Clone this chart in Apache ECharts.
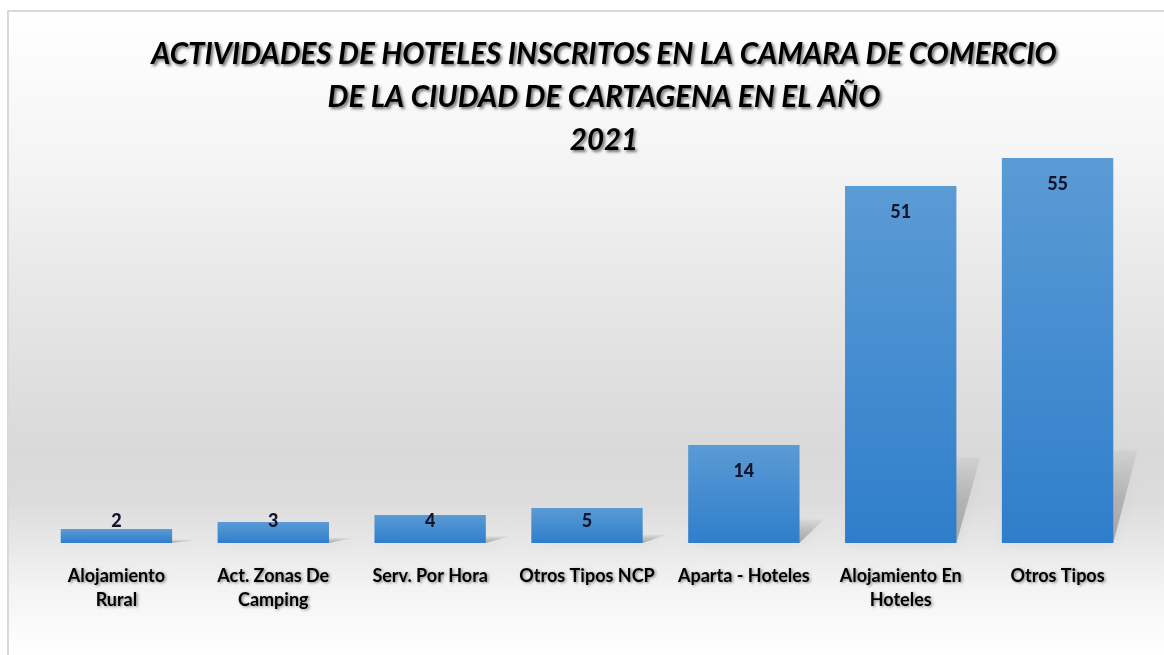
<!DOCTYPE html>
<html>
<head>
<meta charset="utf-8">
<script src="https://cdn.jsdelivr.net/npm/echarts@6/dist/echarts.min.js"></script>
<style>
  html, body { margin: 0; padding: 0; background: #ffffff; }
  #frame {
    position: absolute; left: 7px; top: 10px; width: 1157px; height: 645px;
    border-left: 2px solid #d9d9d9; border-top: 2px solid #d9d9d9;
    box-sizing: border-box;
    background: linear-gradient(to bottom, #ffffff 0%, #f5f5f5 22%, #e6e6e6 45%, #d9d9d9 68%, #dcdcdc 76%, #f4f4f4 90%, #ffffff 100%);
  }
  #chart { position: absolute; left: 0; top: 0; width: 1164px; height: 655px; }
</style>
</head>
<body>
<div id="frame"></div>
<div id="chart"></div>
<script>
const titleLines = [
  "ACTIVIDADES DE HOTELES INSCRITOS EN LA CAMARA DE COMERCIO",
  "DE LA CIUDAD DE CARTAGENA EN EL AÑO",
  "2021"
];
const categories = [
  "Alojamiento\nRural",
  "Act. Zonas De\nCamping",
  "Serv. Por Hora",
  "Otros Tipos NCP",
  "Aparta - Hoteles",
  "Alojamiento En\nHoteles",
  "Otros Tipos"
];
const values = [2, 3, 4, 5, 14, 51, 55];

const chart = echarts.init(document.getElementById('chart'), null, { renderer: 'canvas' });

const GAP = 0.29;

const barColor = new echarts.graphic.LinearGradient(0, 0, 0, 1, [
  { offset: 0, color: '#5b9bd5' },
  { offset: 1, color: '#2f7ecb' }
]);

const seriesData = values.map(v => (
  v < 8
    ? { value: v, label: { position: 'insideBottom', distance: 13 } }
    : { value: v }
));

// perspective-like shadow behind each bar, drawn from the same scales
function renderShadow(params, api) {
  const idx = api.value(0);
  const val = api.value(1);
  const top = api.coord([idx, val]);
  const base = api.coord([idx, 0]);
  const band = api.size([1, 0])[0];
  const w = band * (1 - GAP);
  const x0 = base[0] - w / 2;
  const x1 = base[0] + w / 2;
  const h = base[1] - top[1];
  const sh = h * 0.24;
  const dx = 24;
  return {
    type: 'polygon',
    shape: {
      points: [
        [x0, base[1]],
        [x1, base[1]],
        [x1 + dx, base[1] - sh],
        [x0 + dx, base[1] - sh]
      ]
    },
    style: {
      fill: new echarts.graphic.LinearGradient(0, 0, 0, 1, [
        { offset: 0, color: 'rgba(0,0,0,0.03)' },
        { offset: 0.5, color: 'rgba(0,0,0,0.16)' },
        { offset: 1, color: 'rgba(0,0,0,0.26)' }
      ]),
      shadowBlur: 14,
      shadowColor: 'rgba(0,0,0,0.22)'
    }
  };
}

const option = {
  backgroundColor: 'transparent',
  animation: false,
  graphic: [{
    type: 'text',
    x: 604,
    y: 33,
    style: {
      text: titleLines.join('\n'),
      fontFamily: 'Lato',
      fontStyle: 'italic',
      fontWeight: 'bold',
      fontSize: 29.5,
      lineHeight: 43,
      fill: '#000000',
      textAlign: 'center',
      textVerticalAlign: 'top',
      textShadowColor: 'rgba(0,0,0,0.55)',
      textShadowBlur: 3,
      textShadowOffsetX: 2,
      textShadowOffsetY: 2
    }
  }],
  grid: { left: 38, right: 28, top: 123, bottom: 112, containLabel: false },
  xAxis: {
    type: 'category',
    data: categories,
    axisLine: { show: false },
    axisTick: { show: false },
    axisLabel: {
      interval: 0,
      margin: 21,
      fontFamily: 'Lato',
      fontWeight: 'bold',
      fontSize: 18,
      lineHeight: 24,
      color: '#000000',
      textShadowColor: 'rgba(0,0,0,0.45)',
      textShadowBlur: 3,
      textShadowOffsetX: 1.5,
      textShadowOffsetY: 1.5
    }
  },
  yAxis: {
    type: 'value',
    min: 0,
    max: 60,
    interval: 10,
    show: false,
    splitLine: { show: false }
  },
  series: [{
    type: 'custom',
    renderItem: renderShadow,
    data: values.map((v, i) => [i, v]),
    encode: { x: 0, y: 1 },
    silent: true,
    z: 1
  }, {
    type: 'bar',
    data: seriesData,
    barCategoryGap: '29%',
    itemStyle: { color: barColor },
    z: 2,
    label: {
      show: true,
      position: 'insideTop',
      distance: 17,
      fontFamily: 'Lato',
      fontWeight: 900,
      fontSize: 18,
      color: '#15152a'
    }
  }]
};
chart.setOption(option);
</script>
</body>
</html>
